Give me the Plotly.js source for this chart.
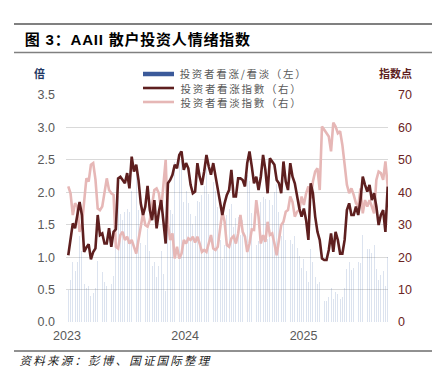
<!DOCTYPE html>
<html>
<head>
<meta charset="utf-8">
<script src="https://cdn.plot.ly/plotly-3.0.1.min.js"></script>
<style>
html,body{margin:0;padding:0;background:#fff;}
#chart{width:432px;height:368px;}
.annotation[data-index="0"] text{letter-spacing:0.8px;}
.annotation[data-index="3"] text{letter-spacing:2.2px;}
.annotation[data-index="4"] text,
.annotation[data-index="5"] text,
.annotation[data-index="6"] text{letter-spacing:1.7px;}
</style>
</head>
<body>
<div id="chart"></div>
<script>
// Weekly AAII survey dates
const dates = (
"2023-01-05 2023-01-12 2023-01-19 2023-01-26 2023-02-02 2023-02-09 2023-02-16 2023-02-23 2023-03-02 2023-03-09 " +
"2023-03-16 2023-03-23 2023-03-30 2023-04-06 2023-04-13 2023-04-20 2023-04-27 2023-05-04 2023-05-11 2023-05-18 " +
"2023-05-25 2023-06-01 2023-06-08 2023-06-15 2023-06-22 2023-06-29 2023-07-06 2023-07-13 2023-07-20 2023-07-27 " +
"2023-08-03 2023-08-10 2023-08-17 2023-08-24 2023-08-31 2023-09-07 2023-09-14 2023-09-21 2023-09-28 2023-10-05 " +
"2023-10-12 2023-10-19 2023-10-26 2023-11-02 2023-11-09 2023-11-16 2023-11-23 2023-11-30 2023-12-07 2023-12-14 " +
"2023-12-21 2023-12-28 " +
"2024-01-04 2024-01-11 2024-01-18 2024-01-25 2024-02-01 2024-02-08 2024-02-15 2024-02-22 2024-02-29 2024-03-07 " +
"2024-03-14 2024-03-21 2024-03-28 2024-04-04 2024-04-11 2024-04-18 2024-04-25 2024-05-02 2024-05-09 2024-05-16 " +
"2024-05-23 2024-05-30 2024-06-06 2024-06-13 2024-06-20 2024-06-27 2024-07-04 2024-07-11 2024-07-18 2024-07-25 " +
"2024-08-01 2024-08-08 2024-08-15 2024-08-22 2024-08-29 2024-09-05 2024-09-12 2024-09-19 2024-09-26 2024-10-03 " +
"2024-10-10 2024-10-17 2024-10-24 2024-10-31 2024-11-07 2024-11-14 2024-11-21 2024-11-28 2024-12-05 2024-12-12 " +
"2024-12-19 2024-12-26 " +
"2025-01-02 2025-01-09 2025-01-16 2025-01-23 2025-01-30 2025-02-06 2025-02-13 2025-02-20 2025-02-27 2025-03-06 " +
"2025-03-13 2025-03-20 2025-03-27 2025-04-03 2025-04-10 2025-04-17 2025-04-24 2025-05-01 2025-05-08 2025-05-15 " +
"2025-05-22 2025-05-29 2025-06-05 2025-06-12 2025-06-19 2025-06-26 2025-07-03 2025-07-10 2025-07-17 2025-07-24 " +
"2025-07-31 2025-08-07 2025-08-14 2025-08-21 2025-08-28 2025-09-04 2025-09-11 2025-09-18"
).split(" ");

// 投资者看涨指數 (%)
const bullish = [20.6,26,30.4,28.9,33,37,33,21.6,23,24,
19.3,21.6,22.7,33,26.8,27.3,24.2,24.2,28.9,23.2,
27.8,28.6,44.3,44.8,43.8,42.8,45.9,41.2,51,46.4,
48.5,43.8,36.6,33,35.6,42,34.5,31.4,37.6,28.9,
34,37.6,31,24.2,42.8,43.8,45.4,48.5,47.4,51.5,
52.6,46.9,49,47.4,42.3,39.7,40.2,49,44.8,42.3,
46.4,51.5,48,45.4,49,44.8,41.2,37,33,36.6,
39.2,40.7,46.9,38.7,38.7,44.3,44.3,43.8,41.8,49,
52.6,48,42.8,44.8,40.7,44.8,51.5,47,39.7,50.5,
49.5,48.5,43.8,42.8,39.7,49.5,43.3,40.7,49,44.8,
42.8,38.7,35,32.5,35,31.4,25.3,42.8,39.7,32.5,
27.8,25.3,19.6,19.1,19.1,22.2,27.3,21.6,27.8,25.3,
21.1,21.1,25.3,34.5,36.6,33,33,35.6,33,37.6,
44.8,42.3,40.2,42.3,37.6,39.7,35.6,29.9,33,34.5,
27.8,41.8];

// 投资者看淡指數 (%)
const bearish = [41.8,39.7,33,36.6,35.6,27.8,29.9,36.6,44.3,43.3,
48.5,49,44,35,34.5,35.6,39.7,44.3,40.7,39.7,
39.2,23.2,22.7,26.8,27.8,25.3,26.3,24.2,25.3,23.2,
21.1,25.3,29.9,33.5,29.9,29.4,31.4,36.6,40.7,41.2,
39.7,34.5,41.8,50,30,25.3,27.3,19.6,23.2,19.6,
21.1,25.3,24.2,25.8,25.3,26.3,24.5,26.3,24.2,21.6,
22.2,21.6,24.2,26.8,22.7,22.2,23.2,29.4,34,31,
23.7,23.2,25.8,26.5,24.2,27.3,33,27.8,26.3,21.6,
24.2,28.5,28.4,37.6,32.5,24.2,26.8,24.7,30.9,26.8,
27.3,24.2,20.6,25.3,29.9,30.9,34,34.5,38.7,37,
32.5,34,34.5,38.7,36.1,39.7,41.8,38.1,43.3,46.4,
47.4,40.7,60.3,59.3,58.2,57.2,52.6,61.5,60.3,58.2,
58.8,54.6,48.5,42.3,39.7,41.2,39.2,36.6,35.6,41.2,
33.5,37.6,35.6,37.6,35.6,33.5,43.8,46.4,45.9,43.8,
49.5,41.8];

// 投资者看涨/看淡 (倍)
const ratio = [0.49,0.65,0.92,0.79,0.93,1.33,1.10,0.59,0.52,0.55,
0.40,0.44,0.52,0.94,0.78,0.77,0.61,0.55,0.71,0.58,
0.71,1.23,1.95,1.67,1.58,1.69,1.75,1.70,2.02,2.00,
2.30,1.73,1.22,0.99,1.19,1.43,1.10,0.86,0.92,0.70,
0.86,1.09,0.74,0.48,1.43,1.73,1.66,2.47,2.04,2.63,
2.49,1.85,2.02,1.84,1.67,1.51,1.64,1.86,1.85,1.96,
2.09,2.38,1.98,1.69,2.16,2.02,1.78,1.26,0.97,1.18,
1.65,1.75,1.82,1.46,1.60,1.62,1.34,1.58,1.59,2.27,
2.17,1.68,1.51,1.19,1.25,1.85,1.92,1.90,1.28,1.88,
1.81,2.00,2.13,1.69,1.33,1.60,1.27,1.18,1.27,1.21,
1.32,1.14,1.01,0.84,0.97,0.79,0.61,1.12,0.92,0.70,
0.59,0.62,0.33,0.32,0.33,0.39,0.52,0.35,0.46,0.43,
0.36,0.39,0.52,0.82,0.92,0.80,0.84,0.97,0.93,0.91,
1.34,1.13,1.13,1.13,1.06,1.19,0.81,0.64,0.72,0.79,
0.56,1.00];

const seriesNames = ["投资者看涨/看淡（左）", "投资者看涨指數（右）", "投资者看淡指數（右）"];
const xTickVals = ["2023-01-01", "2024-01-01", "2025-01-01"];
const xTickText = ["2023", "2024", "2025"];

const C_BAR = "rgba(80,115,175,0.20)";
const C_BAR_LEG = "#3b5a9a";
const C_BULL = "#5e1f1f";
const C_BEAR = "#e6b7b6";

const CJK = "'Noto Sans CJK SC', 'Noto Sans', sans-serif";
const LAT = "'Liberation Sans', Arial, sans-serif";

const traces = [
  {type: "bar", x: dates, y: ratio, name: seriesNames[0], yaxis: "y",
   width: 2.8 * 86400000, marker: {color: C_BAR, line: {width: 0}}, showlegend: false,
   hoverinfo: "skip"},
  {type: "scatter", mode: "lines", x: dates, y: bearish, name: seriesNames[2], yaxis: "y2",
   line: {color: C_BEAR, width: 2.6}, showlegend: false},
  {type: "scatter", mode: "lines", x: dates, y: bullish, name: seriesNames[1], yaxis: "y2",
   line: {color: C_BULL, width: 2.6}, showlegend: false}
];

// paper-coordinate helpers (plot area: x 66..388 px, y 95..322 px)
const L = 66, R = 388, T = 95, B = 322;
const px = v => (v - L) / (R - L);
const py = v => (B - v) / (B - T);

const legendRows = [
  {y: 74, color: C_BAR_LEG, w: 4.5, text: seriesNames[0]},
  {y: 88, color: C_BULL, w: 2.6, text: seriesNames[1]},
  {y: 102, color: C_BEAR, w: 2.6, text: seriesNames[2]}
];

const shapes = [
  {type: "line", xref: "paper", yref: "paper", x0: px(14), x1: px(432), y0: py(24), y1: py(24),
   line: {color: "#808080", width: 2}},
  {type: "line", xref: "paper", yref: "paper", x0: px(14), x1: px(432), y0: py(52.5), y1: py(52.5),
   line: {color: "#808080", width: 1.5}},
  {type: "line", xref: "paper", yref: "paper", x0: px(14), x1: px(432), y0: py(351), y1: py(351),
   line: {color: "#222", width: 1}}
];
const annotations = [
  {xref: "paper", yref: "paper", x: px(24), y: py(40), xanchor: "left", yanchor: "middle", showarrow: false,
   xshift: 6,
   text: "<b>图 3：AAII 散户投资人情绪指数</b>", font: {family: "'Liberation Sans', 'Noto Sans CJK SC', sans-serif", size: 15, color: "#000"}},
  {xref: "paper", yref: "paper", x: px(39), y: py(72.5), xanchor: "center", yanchor: "middle", showarrow: false,
   text: "<b>倍</b>", font: {family: CJK, size: 11, color: "#1f3864"}},
  {xref: "paper", yref: "paper", x: px(395.5), y: py(72.5), xanchor: "center", yanchor: "middle", showarrow: false,
   text: "<b>指数点</b>", font: {family: CJK, size: 11, color: "#5e1f1f"}},
  {xref: "paper", yref: "paper", x: px(19), y: py(359.5), xanchor: "left", yanchor: "middle", showarrow: false,
   xshift: 15, borderpad: 0,
   text: "<i>资料来源：彭博、国证国际整理</i>", font: {family: CJK, size: 11.5, color: "#222"}}
];
legendRows.forEach(r => {
  shapes.push({type: "line", xref: "paper", yref: "paper", x0: px(143), x1: px(174), y0: py(r.y), y1: py(r.y),
    line: {color: r.color, width: r.w}});
  annotations.push({xref: "paper", yref: "paper", x: px(177), y: py(r.y), xanchor: "left", yanchor: "middle",
    xshift: 10,
    showarrow: false, text: r.text, font: {family: CJK, size: 10.5, color: "#595959"}});
});

const layout = {
  width: 432, height: 368,
  margin: {l: L, r: 432 - R, t: T, b: 368 - B, pad: 0},
  paper_bgcolor: "#fff", plot_bgcolor: "#fff",
  showlegend: false,
  bargap: 0,
  xaxis: {type: "date", range: ["2022-12-29", "2025-09-19"], tickvals: xTickVals, ticktext: xTickText,
    showgrid: false, zeroline: false, showline: false, ticks: "", ticklabelstandoff: 4,
    tickfont: {family: LAT, size: 12.5, color: "#595959"}},
  yaxis: {range: [0, 3.5], dtick: 0.5, tickformat: ".1f", showgrid: true, gridcolor: "#d9d9d9", gridwidth: 1,
    zeroline: false, showline: false, ticks: "", ticklabelstandoff: 10,
    tickfont: {family: LAT, size: 12.5, color: "#595959"}},
  yaxis2: {range: [0, 70], dtick: 10, overlaying: "y", side: "right", showgrid: false, zeroline: false,
    showline: false, ticks: "", ticklabelstandoff: 9,
    tickfont: {family: LAT, size: 12.5, color: "#6b2424"}},
  shapes: shapes,
  annotations: annotations,
  font: {family: CJK}
};

Plotly.newPlot("chart", traces, layout, {displayModeBar: false, staticPlot: true});
</script>
</body>
</html>
